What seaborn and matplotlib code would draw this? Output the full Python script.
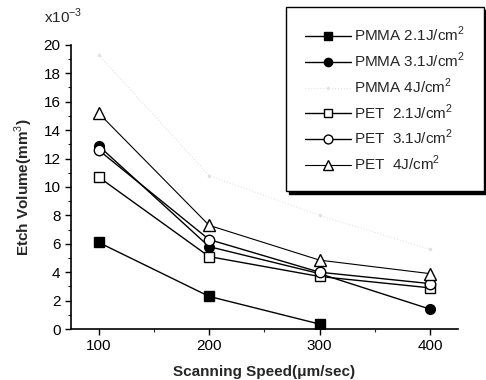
import numpy as np
import matplotlib
matplotlib.use("Agg")
import matplotlib.pyplot as plt
import seaborn as sns

speeds = [100, 200, 300, 400]
pmma_21 = [6.1, 2.3, 0.35, np.nan]
pmma_31 = [12.9, 5.8, 3.9, 1.4]
pmma_4 = [19.3, 10.8, 8.0, 5.6]
pet_21 = [10.7, 5.1, 3.7, 2.9]
pet_31 = [12.6, 6.3, 4.0, 3.2]
pet_4 = [15.2, 7.3, 4.85, 3.9]

labels = ["PMMA 2.1J/cm$^2$", "PMMA 3.1J/cm$^2$", "PMMA 4J/cm$^2$",
          "PET  2.1J/cm$^2$", "PET  3.1J/cm$^2$", "PET  4J/cm$^2$"]

sns.set_style("ticks")
plt.rcParams['font.family'] = ['Liberation Sans', 'DejaVu Sans']
plt.rcParams['mathtext.fontset'] = 'custom'
plt.rcParams['mathtext.rm'] = 'Liberation Sans'

fig = plt.figure(figsize=(4.86, 3.8), dpi=100)
ax = fig.add_axes([0.146, 0.134, 0.796, 0.748])

series = [
    (pmma_21, dict(marker='s', color='black', mfc='black', ms=7, lw=1.0)),
    (pmma_31, dict(marker='o', color='black', mfc='black', ms=7, lw=1.0)),
    (pmma_4, dict(marker='.', color='#e2e2e2', mfc='#e2e2e2', ms=3, lw=0.8, ls=':')),
    (pet_21, dict(marker='s', color='black', mfc='white', ms=7, lw=1.0)),
    (pet_31, dict(marker='o', color='black', mfc='white', ms=7.5, lw=1.0)),
    (pet_4, dict(marker='^', color='black', mfc='white', ms=8, lw=0.8)),
]

for (vals, kw), lab in zip(series, labels):
    sns.lineplot(x=speeds, y=vals, ax=ax, label=lab, mec=kw['color'], mew=1.0, **kw)

ax.set_xlim(75, 425)
ax.set_ylim(0, 20)
ax.set_xticks([100, 200, 300, 400])
ax.set_yticks(range(0, 21, 2))
ax.set_xticks([150, 250, 350], minor=True)
ax.set_yticks(range(1, 20, 2), minor=True)
ax.tick_params(axis='both', which='major', direction='out', length=4, width=1.0, labelsize=11, colors='black')
ax.tick_params(axis='both', which='minor', direction='out', length=2, width=0.8)
sns.despine(ax=ax)
for s in ['left', 'bottom']:
    ax.spines[s].set_linewidth(1.2)
    ax.spines[s].set_color('black')

ax.set_xlabel("Scanning Speed(μm/sec)", fontsize=11, fontweight='bold', labelpad=8)
ax.set_ylabel("Etch Volume(mm$^3$)", fontsize=11, fontweight='bold', labelpad=6)
fig.text(0.09, 0.94, "x10$^{-3}$", fontsize=11)

ax.get_legend().remove()
handles, labs = ax.get_legend_handles_labels()
leg = fig.legend(handles, labs, loc='upper right', bbox_to_anchor=(0.995, 0.982),
                 frameon=True, fancybox=False, shadow={'color': 'black', 'alpha': 1.0},
                 fontsize=11, handlelength=3.0, labelspacing=0.42, borderpad=1.2,
                 handletextpad=0.25, borderaxespad=0, markerscale=0.85)
leg.get_frame().set_edgecolor('black')
leg.get_frame().set_linewidth(1.0)

fig.savefig("out.png", dpi=100)
